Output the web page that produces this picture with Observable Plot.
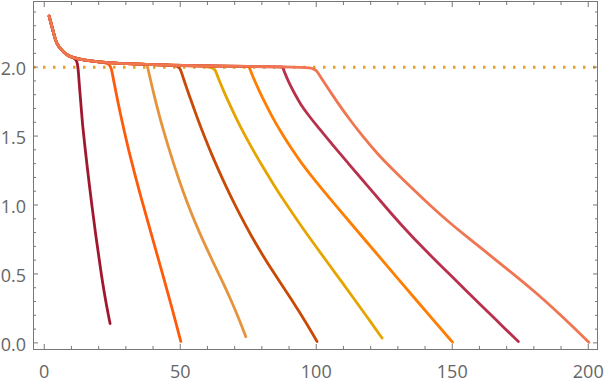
<!DOCTYPE html>
<html><head><meta charset="utf-8">
<script src="https://cdn.jsdelivr.net/npm/d3@7"></script>
<script src="https://cdn.jsdelivr.net/npm/@observablehq/plot@0.6"></script>
<style>
body{margin:0;background:#fff}
#chart svg{display:block}
</style>
</head><body><div id="chart"></div>
<script>
// shared initial decay / plateau
const plateauX = [1.8, 2.6, 3.4, 4.2, 5.1, 6.1, 7.3, 8.5, 10, 15, 20, 25, 30, 37.5, 45, 50, 62.5, 75, 87.5];
const plateauY = [2.37, 2.31, 2.25, 2.19, 2.155, 2.13, 2.105, 2.088, 2.072, 2.048, 2.038, 2.03, 2.025, 2.02, 2.015, 2.012, 2.008, 2.005, 2.002];

// point where each curve leaves the plateau
const leaveX = [12.2, 24.4, 37.8, 49.6, 62.4, 75.3, 87.6, 99.3];
const leaveY = [2.058, 2.03, 2.02, 2.012, 2.008, 2.005, 2.002, 2.0];

// falling branches
const drop1X = [12.6, 13.1, 13.6, 14.1, 14.8, 15.6, 16.5, 17.3, 19.0, 20.8, 22.4, 24.2];
const drop1Y = [1.95, 1.82, 1.70, 1.58, 1.45, 1.31, 1.16, 1.03, 0.77, 0.52, 0.32, 0.14];
const drop2X = [25.0, 25.7, 26.3, 26.9, 28.0, 29.3, 31.0, 33.0, 35.5, 38.0, 41.0, 43.5, 45.9, 48.0, 50.2];
const drop2Y = [1.955, 1.885, 1.825, 1.765, 1.66, 1.545, 1.40, 1.245, 1.06, 0.885, 0.675, 0.50, 0.33, 0.175, 0.01];
const drop3X = [38.5, 39.3, 40.2, 41.0, 42.2, 43.5, 46.5, 49.5, 52.6, 55.5, 58.5, 62.0, 65.5, 68.6, 71.5, 74.1];
const drop3Y = [1.957, 1.887, 1.813, 1.749, 1.656, 1.562, 1.364, 1.184, 1.013, 0.871, 0.736, 0.589, 0.446, 0.313, 0.179, 0.045];
const drop4X = [50.3, 51.3, 52.5, 53.9, 55.2, 56.5, 59.0, 62.0, 65.5, 69.0, 72.2, 76.0, 80.0, 84.0, 88.0, 91.8, 96.0, 100.3];
const drop4Y = [1.97, 1.91, 1.84, 1.762, 1.69, 1.62, 1.49, 1.345, 1.19, 1.045, 0.92, 0.78, 0.645, 0.52, 0.40, 0.287, 0.155, 0.01];
const drop5X = [63.2, 64.5, 66.0, 67.4, 70.4, 73.5, 77.0, 80.5, 84.2, 88.2, 94.3, 100, 105, 109, 114, 119, 124.2];
const drop5Y = [1.96, 1.895, 1.825, 1.762, 1.635, 1.515, 1.39, 1.272, 1.152, 1.028, 0.852, 0.695, 0.56, 0.452, 0.317, 0.18, 0.035];
const drop6X = [76.0, 77.5, 79.0, 80.8, 83.9, 87.0, 90.5, 94.3, 100, 106.5, 112.7, 118, 122.5, 130, 137.2, 144, 150.1];
const drop6Y = [1.965, 1.895, 1.83, 1.755, 1.635, 1.53, 1.42, 1.31, 1.165, 1.012, 0.868, 0.745, 0.64, 0.467, 0.30, 0.145, 0.005];
const drop7X = [88.5, 90.0, 92.0, 94.3, 97.0, 100, 106.5, 112.5, 118.8, 125, 131, 140, 149.4, 155.5, 161.7, 168, 174.3];
const drop7Y = [1.955, 1.885, 1.81, 1.728, 1.655, 1.58, 1.425, 1.285, 1.14, 0.997, 0.86, 0.672, 0.49, 0.372, 0.252, 0.13, 0.01];
const drop8X = [100.5, 102, 104, 106.5, 109, 112.1, 117, 122.5, 129, 136, 142.5, 149.4, 156, 162, 168, 174, 181, 187.5, 194, 200.2];
const drop8Y = [1.962, 1.917, 1.857, 1.782, 1.71, 1.625, 1.50, 1.37, 1.24, 1.107, 0.986, 0.865, 0.76, 0.665, 0.57, 0.475, 0.36, 0.245, 0.125, 0.005];

const colors = ["#a0182e", "#ff5a0a", "#e6943c", "#c84a06", "#e6a400", "#ff7d00", "#b8304a", "#f07652"];
const refLevel = [2];
const refColor = "#e6a01e";

const xMajor = [0, 50, 100, 150, 200];
const xMinor = [10,20,30,40,60,70,80,90,110,120,130,140,160,170,180,190];
const yMajor = [0, 0.5, 1, 1.5, 2];
const yMinor = [0.1,0.2,0.3,0.4,0.6,0.7,0.8,0.9,1.1,1.2,1.3,1.4,1.6,1.7,1.8,1.9,2.1,2.2,2.3,2.4];
const yLabels = ["0.0", "0.5", "1.0", "1.5", "2.0"];

const dropXs = [drop1X, drop2X, drop3X, drop4X, drop5X, drop6X, drop7X, drop8X];
const dropYs = [drop1Y, drop2Y, drop3Y, drop4Y, drop5Y, drop6Y, drop7Y, drop8Y];

const series = dropXs.map((dx, i) => {
  const rows = [];
  plateauX.forEach((x, j) => { if (x < leaveX[i]) rows.push({x, y: plateauY[j]}); });
  rows.push({x: leaveX[i], y: leaveY[i]});
  dx.forEach((x, j) => rows.push({x, y: dropYs[i][j]}));
  return rows;
});

const frameColor = "#777";
const font = "'Open Sans', sans-serif";
const tickMajor = 5, tickMinor = 3;

const chart = Plot.plot({
  width: 604,
  height: 386,
  marginLeft: 33,
  marginRight: 7,
  marginTop: 1,
  marginBottom: 37,
  style: {fontFamily: font, fontSize: "18px", color: "#666", background: "#fff"},
  x: {domain: [-3.95, 203.4], nice: false},
  y: {domain: [-0.048, 2.476], nice: false},
  marks: [
    Plot.ruleY(refLevel, {stroke: refColor, strokeWidth: 3, strokeDasharray: "2.5,7.5"}),
    ...series.map((rows, i) => Plot.line(rows, {x: "x", y: "y", stroke: colors[i], strokeWidth: 2.8, curve: "basis"})),
    Plot.frame({stroke: frameColor, strokeWidth: 1}),
    // inward tick marks
    Plot.axisX(xMinor, {anchor: "bottom", tickSize: tickMinor, dy: -tickMinor, text: null, label: null, stroke: frameColor}),
    Plot.axisX(xMajor, {anchor: "bottom", tickSize: tickMajor, dy: -tickMajor, text: null, label: null, stroke: frameColor}),
    Plot.axisX(xMinor, {anchor: "top", tickSize: tickMinor, dy: tickMinor, text: null, label: null, stroke: frameColor}),
    Plot.axisX(xMajor, {anchor: "top", tickSize: tickMajor, dy: tickMajor, text: null, label: null, stroke: frameColor}),
    Plot.axisY(yMinor, {anchor: "left", tickSize: tickMinor, dx: tickMinor, text: null, label: null, stroke: frameColor}),
    Plot.axisY(yMajor, {anchor: "left", tickSize: tickMajor, dx: tickMajor, text: null, label: null, stroke: frameColor}),
    Plot.axisY(yMinor, {anchor: "right", tickSize: tickMinor, dx: -tickMinor, text: null, label: null, stroke: frameColor}),
    Plot.axisY(yMajor, {anchor: "right", tickSize: tickMajor, dx: -tickMajor, text: null, label: null, stroke: frameColor}),
    // labels
    Plot.axisX(xMajor, {anchor: "bottom", tickSize: 0, tickPadding: 16, tickFormat: d => String(d), fill: "#666", label: null}),
    Plot.axisY(yMajor, {anchor: "left", tickSize: 0, tickPadding: 7.5, tickFormat: (d, i) => yLabels[i], fill: "#666", dy: 2, label: null})
  ]
});
document.getElementById("chart").appendChild(chart);
</script>
</body></html>
